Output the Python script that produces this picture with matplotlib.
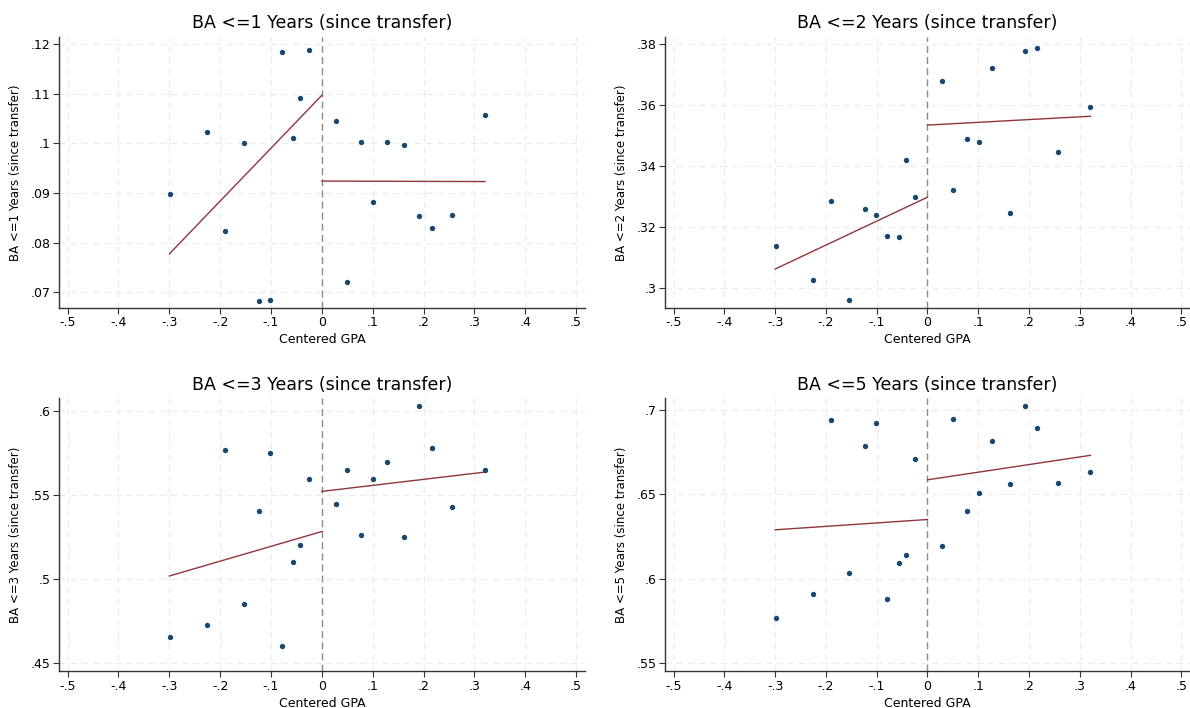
import numpy as np
import matplotlib
matplotlib.use("Agg")
import matplotlib.pyplot as plt

# bin centres (centered GPA), same in all four panels
gpa = [-0.299, -0.225, -0.190, -0.154, -0.124, -0.101, -0.079, -0.057, -0.042, -0.025,
       0.028, 0.050, 0.077, 0.101, 0.128, 0.162, 0.192, 0.216, 0.257, 0.321]

ba1 = [0.0897, 0.1023, 0.0823, 0.1000, 0.0683, 0.0684, 0.1185, 0.1011, 0.1092, 0.1188,
       0.1046, 0.0720, 0.1003, 0.0881, 0.1003, 0.0996, 0.0853, 0.0829, 0.0856, 0.1057]
ba2 = [0.3137, 0.3025, 0.3284, 0.2958, 0.3257, 0.3239, 0.3168, 0.3165, 0.3420, 0.3299,
       0.3678, 0.3321, 0.3487, 0.3477, 0.3723, 0.3244, 0.3776, 0.3786, 0.3445, 0.3593]
ba3 = [0.4657, 0.4729, 0.5767, 0.4852, 0.5409, 0.5753, 0.4600, 0.5103, 0.5204, 0.5598,
       0.5445, 0.5652, 0.5264, 0.5596, 0.5696, 0.5252, 0.6030, 0.5781, 0.5431, 0.5648]
ba5 = [0.5765, 0.5908, 0.6941, 0.6032, 0.6784, 0.6921, 0.5878, 0.6091, 0.6143, 0.6711,
       0.6195, 0.6947, 0.6402, 0.6505, 0.6816, 0.6559, 0.7022, 0.6891, 0.6565, 0.6634]

# fitted line end points: x at left / cutoff / right
fit_x_left = [-0.3, 0.0]
fit_x_right = [0.0, 0.321]
fit1 = ([0.0777, 0.1097], [0.0924, 0.0923])
fit2 = ([0.3061, 0.3297], [0.3534, 0.3563])
fit3 = ([0.5019, 0.5284], [0.5523, 0.5638])
fit5 = ([0.6290, 0.6351], [0.6586, 0.6731])

titles = ["BA <=1 Years (since transfer)", "BA <=2 Years (since transfer)",
          "BA <=3 Years (since transfer)", "BA <=5 Years (since transfer)"]
xticks = [-0.5, -0.4, -0.3, -0.2, -0.1, 0, 0.1, 0.2, 0.3, 0.4, 0.5]
yticks1 = [0.07, 0.08, 0.09, 0.10, 0.11, 0.12]
yticks2 = [0.30, 0.32, 0.34, 0.36, 0.38]
yticks3 = [0.45, 0.50, 0.55, 0.60]
yticks5 = [0.55, 0.60, 0.65, 0.70]
ylims = [(0.0668, 0.1215), (0.2933, 0.3824), (0.4452, 0.608), (0.5453, 0.7071)]


def stata_lbl(v):
    s = f"{v:g}"
    return s.replace("0.", ".")


navy = "#1a476f"
maroon = "#90353b"

fig = plt.figure(figsize=(11.9, 7.08), dpi=100)
boxes = [(0.0496, 0.565, 0.4417, 0.383), (0.5588, 0.565, 0.4412, 0.383),
         (0.0496, 0.052, 0.4417, 0.386), (0.5588, 0.052, 0.4412, 0.386)]
panels = [(ba1, fit1, yticks1), (ba2, fit2, yticks2), (ba3, fit3, yticks3), (ba5, fit5, yticks5)]

for i, (ys, fit, yt) in enumerate(panels):
    ax = fig.add_axes(boxes[i])
    ax.set_xlim(-0.517, 0.517)
    ax.set_ylim(*ylims[i])
    ax.set_xticks(xticks)
    ax.set_xticklabels([stata_lbl(v) for v in xticks])
    ax.set_yticks(yt)
    ax.set_yticklabels([stata_lbl(v) for v in yt])
    ax.grid(True, color="#ececec", linestyle=(0, (6, 4)), linewidth=0.8)
    ax.set_axisbelow(True)
    for s in ["top", "right"]:
        ax.spines[s].set_visible(False)
    for s in ["left", "bottom"]:
        ax.spines[s].set_color("#333333")
        ax.spines[s].set_linewidth(1.0)
    ax.tick_params(direction="out", length=4, width=0.8, colors="#333333",
                   labelsize=9, labelcolor="black", pad=2)
    ax.axvline(0, color="#8c8c8c", linestyle=(0, (5, 3)), linewidth=1.0, zorder=1)
    ax.scatter(gpa, ys, s=15, color=navy, zorder=3, linewidths=0)
    ax.plot(fit_x_left, fit[0], color=maroon, linewidth=1.0, zorder=2)
    ax.plot(fit_x_right, fit[1], color=maroon, linewidth=1.0, zorder=2)
    ax.set_title(titles[i], fontsize=12.5, pad=6)
    ax.set_xlabel("Centered GPA", fontsize=9, labelpad=3)
    ax.set_ylabel(titles[i], fontsize=8.5, labelpad=6)

fig.savefig("out.png", dpi=100, facecolor="white")
